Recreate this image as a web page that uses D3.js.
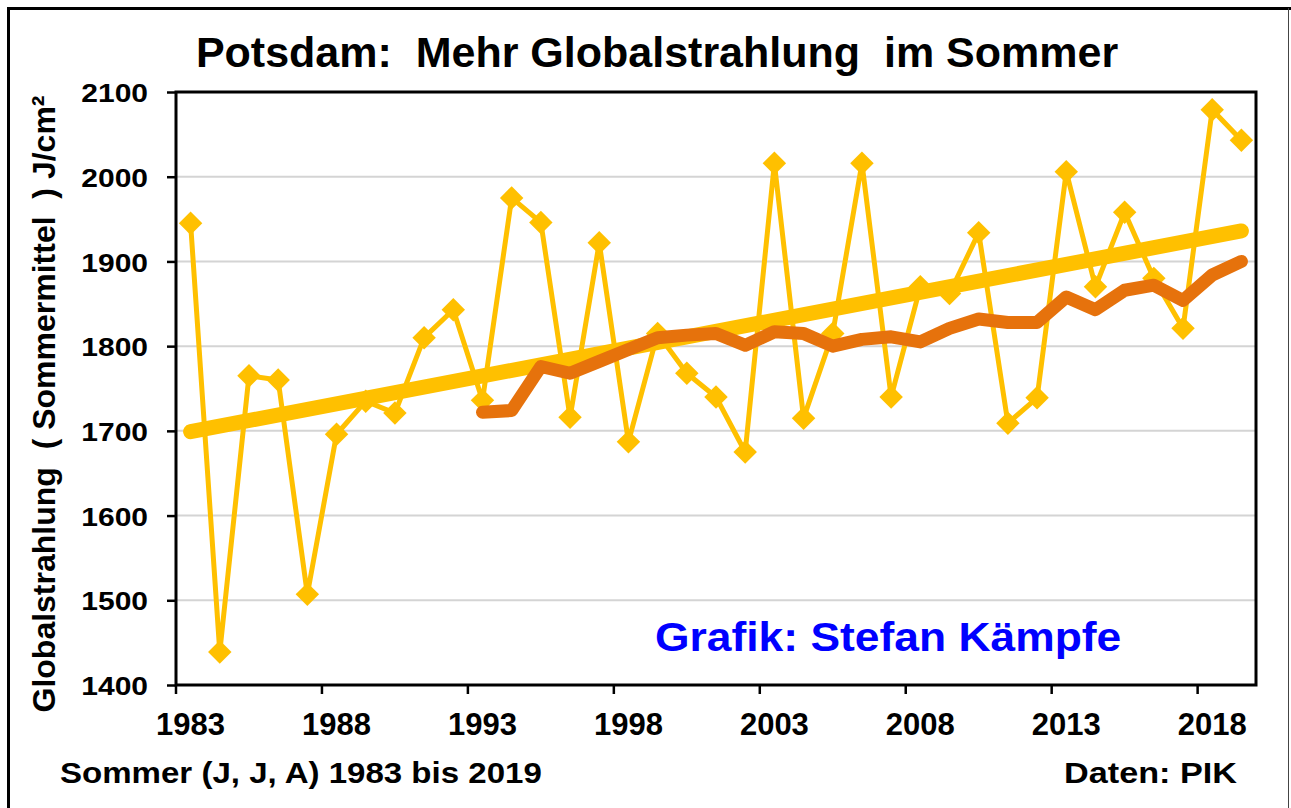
<!DOCTYPE html>
<html><head><meta charset="utf-8">
<script src="https://cdn.jsdelivr.net/npm/d3@7/dist/d3.min.js"></script>
<style>
body{margin:0;background:#fff}
svg{display:block}
text{font-family:Arial,"Liberation Sans",sans-serif;font-weight:bold;white-space:pre}
</style>
</head><body>
<svg id="c" width="1291" height="808"></svg>
<script>
// ---- data ----
const years = [1983,1984,1985,1986,1987,1988,1989,1990,1991,1992,1993,1994,1995,1996,1997,1998,1999,2000,
  2001,2002,2003,2004,2005,2006,2007,2008,2009,2010,2011,2012,2013,2014,2015,2016,2017,2018,2019];
const globalstrahlung = [1945,1439,1765,1760,1507,1696,1735,1721,1810,1843,1736,1975,1946,1716,1922,1687,1815,1768,
  1740,1675,2016,1715,1815,2016,1740,1870,1862,1934,1709,1739,2006,1870,1958,1880,1821,2079,2043];
const avgYears = [1993,1994,1995,1996,1997,1998,1999,2000,2001,2002,2003,2004,2005,2006,2007,2008,2009,2010,
  2011,2012,2013,2014,2015,2016,2017,2018,2019];
const gleitendesMittel = [1722,1724,1776,1768,1782,1796,1810,1813,1815,1801,1817,1815,1800,1808,1811,1805,1821,1832,
  1828,1828,1858,1843,1866,1872,1854,1884,1900];
const trendYears = [1983, 2019];
const trendValues = [1699, 1936];
const yTicks = [1400,1500,1600,1700,1800,1900,2000,2100];
const xLabelYears = [1983,1988,1993,1998,2003,2008,2013,2018];

// ---- layout ----
const svg = d3.select('#c');
const L = 176, R = 1256, T = 92, B = 685;
const YELLOW = '#FFC000', ORANGE = '#E6720C';

svg.append('rect').attr('width',1291).attr('height',808).attr('fill','#fff');
// outer frame
svg.append('path').attr('d','M8.5,808 V8.5 H1291').attr('fill','none').attr('stroke','#000').attr('stroke-width',3);
svg.append('line').attr('x1',1288.5).attr('x2',1288.5).attr('y1',8).attr('y2',808).attr('stroke','#444').attr('stroke-width',1);

const x = d3.scaleBand().domain(years).range([L, R]);
const xc = d => x(d) + x.bandwidth()/2;
const y = d3.scaleLinear().domain([1400, 2100]).range([B, T]);

// grid
svg.append('g').selectAll('line').data(yTicks.slice(1, -1)).join('line')
  .attr('x1', L).attr('x2', R).attr('y1', d => y(d)).attr('y2', d => y(d))
  .attr('stroke', '#D4D4D4').attr('stroke-width', 2);

// y axis
const gy = svg.append('g').attr('transform', `translate(${L},0)`)
  .call(d3.axisLeft(y).tickValues(yTicks).tickSize(9).tickFormat(d3.format('d')));
gy.select('.domain').remove();
gy.selectAll('.tick line').attr('stroke', '#000').attr('stroke-width', 2.5);
gy.selectAll('.tick text').attr('x', null).attr('dy', null)
  .attr('font-size', 25).attr('fill', '#000').attr('text-anchor', 'end')
  .attr('dominant-baseline', 'central')
  .attr('transform', 'translate(-28,1) scale(1.2,1)');

// x axis labels (centred on categories)
const gx = svg.append('g').attr('transform', `translate(0,${B})`)
  .call(d3.axisBottom(x).tickValues(xLabelYears).tickSize(0).tickPadding(0));
gx.select('.domain').remove();
gx.selectAll('.tick text').attr('y', 50).attr('dy', null)
  .attr('font-size', 31).attr('fill', '#000');
// x tick marks at category boundaries
svg.append('g').selectAll('line').data(xLabelYears).join('line')
  .attr('x1', d => x(d)).attr('x2', d => x(d)).attr('y1', B).attr('y2', B + 9)
  .attr('stroke', '#000').attr('stroke-width', 2.5);

// plot frame
svg.append('rect').attr('x', L).attr('y', T).attr('width', R - L).attr('height', B - T)
  .attr('fill', 'none').attr('stroke', '#000').attr('stroke-width', 3);

// data line + diamonds
const data = years.map((yr, i) => ({yr, v: globalstrahlung[i]}));
svg.append('path').datum(data)
  .attr('d', d3.line().x(d => xc(d.yr)).y(d => y(d.v)))
  .attr('fill', 'none').attr('stroke', YELLOW).attr('stroke-width', 5).attr('stroke-linejoin', 'round');
svg.append('g').selectAll('path').data(data).join('path')
  .attr('d', d3.symbol(d3.symbolSquare, 275))
  .attr('transform', d => `translate(${xc(d.yr)},${y(d.v)}) rotate(45)`)
  .attr('fill', YELLOW);

// trend line
const trend = trendYears.map((yr, i) => ({yr, v: trendValues[i]}));
svg.append('path').datum(trend)
  .attr('d', d3.line().x(d => xc(d.yr)).y(d => y(d.v)))
  .attr('fill', 'none').attr('stroke', YELLOW).attr('stroke-width', 15).attr('stroke-linecap', 'round');

// moving average
const avg = avgYears.map((yr, i) => ({yr, v: gleitendesMittel[i]}));
svg.append('path').datum(avg)
  .attr('d', d3.line().x(d => xc(d.yr)).y(d => y(d.v)))
  .attr('fill', 'none').attr('stroke', ORANGE).attr('stroke-width', 13)
  .attr('stroke-linecap', 'round').attr('stroke-linejoin', 'round');

// texts
function txt(xp, yp, s, fs, sx, anchor, fill) {
  svg.append('g').attr('transform', `translate(${xp},${yp}) scale(${sx},1)`)
    .append('text').attr('text-anchor', anchor).attr('font-size', fs).attr('fill', fill || '#000').text(s);
}
txt(657, 67, 'Potsdam:  Mehr Globalstrahlung  im Sommer', 43, 1, 'middle');
txt(60, 783, 'Sommer (J, J, A) 1983 bis 2019', 29, 1.14, 'start');
txt(1237, 783, 'Daten: PIK', 29, 1.18, 'end');
txt(655, 651, 'Grafik: Stefan Kämpfe', 40, 1.11, 'start', '#0000FF');
svg.append('text').attr('transform', 'translate(55,404) rotate(-90)')
  .attr('text-anchor', 'middle').attr('font-size', 32).attr('fill', '#000')
  .text('Globalstrahlung  ( Sommermittel  ) J/cm²');
</script>
</body></html>
